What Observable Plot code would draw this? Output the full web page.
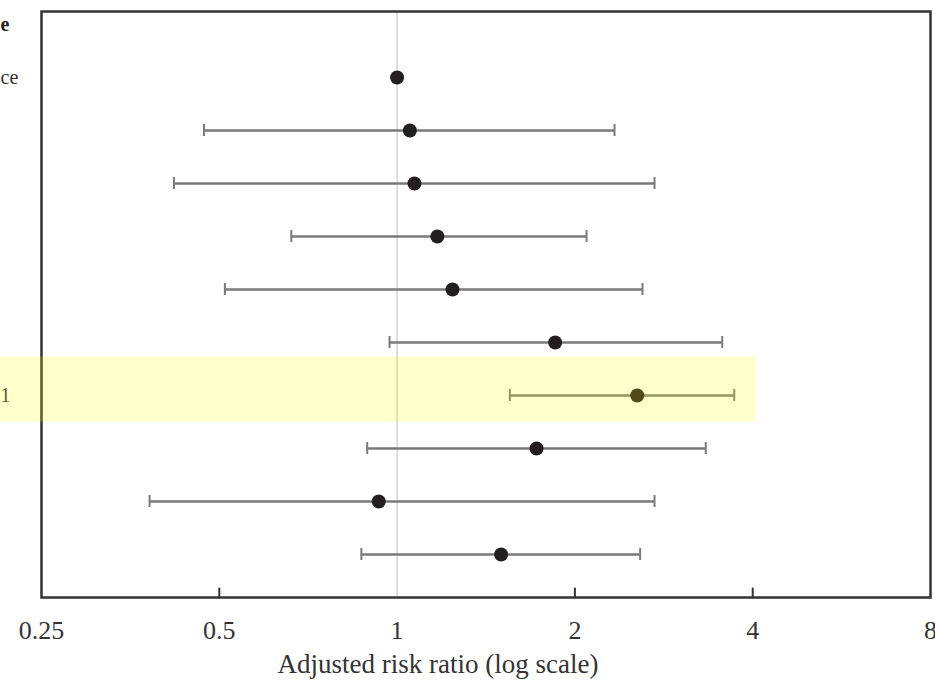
<!DOCTYPE html>
<html>
<head>
<meta charset="utf-8">
<script src="https://cdn.jsdelivr.net/npm/d3@7"></script>
<script src="https://cdn.jsdelivr.net/npm/@observablehq/plot@0.6"></script>
<style>
  html, body { margin: 0; padding: 0; background: #fff; overflow: hidden; }
  #chart svg { display: block; }
  #chart svg text { font-family: "Liberation Serif", "Times New Roman", Times, serif; }
</style>
</head>
<body>
<div id="chart"></div>
<script>
// ---- data ----
const headerLabel = "e";
const rows = ["r1", "r2", "r3", "r4", "r5", "r6", "r7", "r8", "r9", "r10"];
const rowLabels = ["ce", "", "", "", "", "", "1", "", "", ""];
const ratio = [1.0, 1.051, 1.070, 1.170, 1.241, 1.852, 2.550, 1.722, 0.931, 1.500];
const lower = [null, 0.471, 0.419, 0.662, 0.511, 0.971, 1.552, 0.890, 0.381, 0.870];
const upper = [null, 2.334, 2.728, 2.093, 2.603, 3.552, 3.722, 3.331, 2.728, 2.579];
const highlightRow = "r7";
const highlightSpan = [0.2, 4.05];
const tickValues = [0.25, 0.5, 1, 2, 4, 8];
const tickLabels = ["0.25", "0.5", "1", "2", "4", "8"];
const innerTicks = [0.5, 2, 4];
const referenceValue = 1;
const axisTitle = "Adjusted risk ratio (log scale)";

// ---- build table ----
const data = rows.map((id, i) => ({id, label: rowLabels[i], rr: ratio[i], lo: lower[i], hi: upper[i]}));
const ci = data.filter(d => d.lo != null);
const yDomain = ["header", ...rows];
const ticks = tickValues.map((v, i) => ({v, label: tickLabels[i]}));
const serif = "'Liberation Serif', 'Times New Roman', Times, serif";
const tickShape = {draw(context, l) { context.moveTo(0, 0); context.lineTo(0, -l); }};

const chart = Plot.plot({
  width: 935,
  height: 686,
  marginLeft: 41,
  marginRight: 5,
  marginTop: 11,
  marginBottom: 89,
  style: {fontFamily: serif, color: "#333", background: "#fff", overflow: "visible"},
  x: {type: "log", domain: [0.25, 8], axis: null},
  y: {type: "point", domain: yDomain, padding: 0, insetTop: 13, insetBottom: 43, axis: null},
  marks: [
    Plot.ruleX([referenceValue], {stroke: "#d4d4d4", strokeWidth: 1.5}),
    Plot.ruleY(ci, {y: "id", x1: "lo", x2: "hi", stroke: "#7a7a7a", strokeWidth: 2.5}),
    Plot.ruleX(ci, {x: "lo", y1: "id", y2: "id", insetTop: -6, insetBottom: -6, stroke: "#7a7a7a", strokeWidth: 2}),
    Plot.ruleX(ci, {x: "hi", y1: "id", y2: "id", insetTop: -6, insetBottom: -6, stroke: "#7a7a7a", strokeWidth: 2}),
    Plot.dot(data, {y: "id", x: "rr", r: 7, fill: "#231f20", stroke: null}),
    Plot.frame({stroke: "#333", strokeWidth: 2.5}),
    Plot.vector(innerTicks, {x: d => d, frameAnchor: "bottom", length: 9, anchor: "start", shape: tickShape, stroke: "#333", strokeWidth: 2, clip: false}),
    Plot.text(ticks, {x: "v", text: "label", frameAnchor: "bottom", lineAnchor: "bottom", dy: 41, fontSize: 26, fill: "#333", clip: false}),
    Plot.text([axisTitle], {text: d => d, frameAnchor: "bottom", lineAnchor: "bottom", dy: 75, dx: -48, fontSize: 27, fill: "#333"}),
    Plot.text(data, {y: "id", text: "label", frameAnchor: "left", textAnchor: "start", dx: -41, fontSize: 20, fill: "#333"}),
    Plot.text([headerLabel], {y: () => "header", text: d => d, frameAnchor: "left", textAnchor: "start", dx: -41, fontSize: 20, fontWeight: "bold", fill: "#222"}),
    Plot.ruleY([highlightRow], {y: d => d, x1: () => highlightSpan[0], x2: () => highlightSpan[1], dy: -6.5, stroke: "#ffff00", strokeOpacity: 0.2, strokeWidth: 65, clip: false})
  ]
});
chart.setAttribute("font-family", serif);
document.getElementById("chart").append(chart);
chart.querySelectorAll("text").forEach(t => t.setAttribute("font-family", serif));
</script>
</body>
</html>
